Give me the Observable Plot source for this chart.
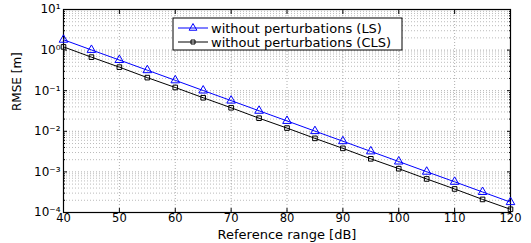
<!DOCTYPE html>
<html><head><meta charset="utf-8">
<script src="https://cdn.jsdelivr.net/npm/d3@7"></script>
<script src="https://cdn.jsdelivr.net/npm/@observablehq/plot@0.6"></script>
<style>
html,body{margin:0;padding:0;background:#fff;}
svg{font-family:"DejaVu Sans",sans-serif;}
</style></head>
<body><div id="chart"></div>
<script>
const ranges = [40,45,50,55,60,65,70,75,80,85,90,95,100,105,110,115,120];
const rmseLS = [1.8,1.01,0.57,0.32,0.18,0.101,0.057,0.032,0.018,0.0101,0.0057,0.0032,0.0018,0.00101,0.00057,0.00032,0.00018];
const rmseCLS = [1.2,0.67,0.38,0.21,0.12,0.067,0.038,0.021,0.012,0.0067,0.0038,0.0021,0.0012,0.00067,0.00038,0.00021,0.00012];
const seriesNames = ["without perturbations (LS)","without perturbations (CLS)"];
const xTicks = [40,50,60,70,80,90,100,110,120];
const yTicks = [1e-4,1e-3,1e-2,1e-1,1,10];

const minor = [];
for (let d = -4; d <= 0; d++) for (let k = 2; k <= 9; k++) minor.push(k * Math.pow(10, d));

const sup = {"-":"\u207B","0":"\u2070","1":"\u00B9","2":"\u00B2","3":"\u00B3","4":"\u2074"};
const fmtY = v => "10" + String(Math.round(Math.log10(v))).split("").map(c => sup[c]).join("");

const ls = ranges.map((r,i) => ({r, v: rmseLS[i]}));
const cls = ranges.map((r,i) => ({r, v: rmseCLS[i]}));
const blank = () => "";
const FONT = '"DejaVu Sans", sans-serif';

const chart = Plot.plot({
  width: 531, height: 243,
  marginLeft: 63, marginRight: 21, marginTop: 9, marginBottom: 31,
  style: {fontFamily: FONT, fontSize: "12px", background: "#fff"},
  x: {domain: [40,120], label: null},
  y: {type: "log", domain: [1e-4, 10], label: null},
  marks: [
    Plot.ruleY(minor, {stroke: "#aaa", strokeDasharray: "1,2", strokeWidth: 0.8}),
    Plot.ruleY(yTicks, {stroke: "#999", strokeDasharray: "1,2", strokeWidth: 0.8}),
    Plot.ruleX(xTicks, {stroke: "#999", strokeDasharray: "1,2", strokeWidth: 0.8}),
    Plot.axisX({ticks: xTicks, tickSize: 0, tickPadding: 1, fill: "#000", fontSize: 11.5, label: null}),
    Plot.axisX({ticks: xTicks, anchor: "bottom", tickSize: -4, tickFormat: blank, stroke: "#000", label: null}),
    Plot.axisX({ticks: xTicks, anchor: "top", tickSize: -4, tickFormat: blank, stroke: "#000", label: null}),
    Plot.axisY({ticks: yTicks, tickSize: 0, tickPadding: 3, tickFormat: fmtY, fontSize: 12, fill: "#000", label: null}),
    Plot.axisY({ticks: yTicks, anchor: "left", tickSize: -4, tickFormat: blank, stroke: "#000", label: null}),
    Plot.axisY({ticks: yTicks, anchor: "right", tickSize: -4, tickFormat: blank, stroke: "#000", label: null}),
    Plot.axisY({ticks: minor, anchor: "left", tickSize: -2, tickFormat: blank, stroke: "#000", label: null}),
    Plot.axisY({ticks: minor, anchor: "right", tickSize: -2, tickFormat: blank, stroke: "#000", label: null}),
    Plot.frame({stroke: "#000", strokeWidth: 1.2}),
    Plot.line(ls, {x: "r", y: "v", stroke: "#0000ff", strokeWidth: 1}),
    Plot.dot(ls, {x: "r", y: "v", symbol: "triangle", r: 3.2, stroke: "#0000ff", fill: "none", strokeWidth: 1}),
    Plot.line(cls, {x: "r", y: "v", stroke: "#000", strokeWidth: 1}),
    Plot.dot(cls, {x: "r", y: "v", symbol: "square", r: 2.6, stroke: "#000", fill: "none", strokeWidth: 1}),
    Plot.text(["Reference range [dB]"], {frameAnchor: "bottom", lineAnchor: "middle", dy: 22, text: d => d, fontSize: 13, fill: "#000"}),
    Plot.text(["RMSE [m]"], {frameAnchor: "left", dx: -46, rotate: -90, text: d => d, fontSize: 12, fill: "#000"})
  ]
});
document.getElementById("chart").appendChild(chart);

// legend
const svg = d3.select(chart);
const lg = svg.append("g").attr("transform", "translate(173,18)");
lg.append("rect").attr("width", 229).attr("height", 32).attr("fill", "#fff").attr("stroke", "#000").attr("stroke-width", 1);
const colors = ["#0000ff", "#000"];
const syms = [d3.symbolTriangle, d3.symbolSquare];
seriesNames.forEach((name, i) => {
  const y = 10 + i * 14;
  lg.append("line").attr("x1", 5).attr("x2", 35).attr("y1", y).attr("y2", y).attr("stroke", colors[i]).attr("stroke-width", 1);
  lg.append("path").attr("d", d3.symbol(syms[i], i === 0 ? 26 : 16)()).attr("transform", `translate(20,${y})`)
    .attr("fill", "none").attr("stroke", colors[i]).attr("stroke-width", 1);
  lg.append("text").attr("x", 38).attr("y", y).attr("dy", "0.35em").attr("text-anchor", "start")
    .attr("font-family", FONT).attr("font-size", 13).attr("fill", "#000").text(name);
});
</script></body></html>
